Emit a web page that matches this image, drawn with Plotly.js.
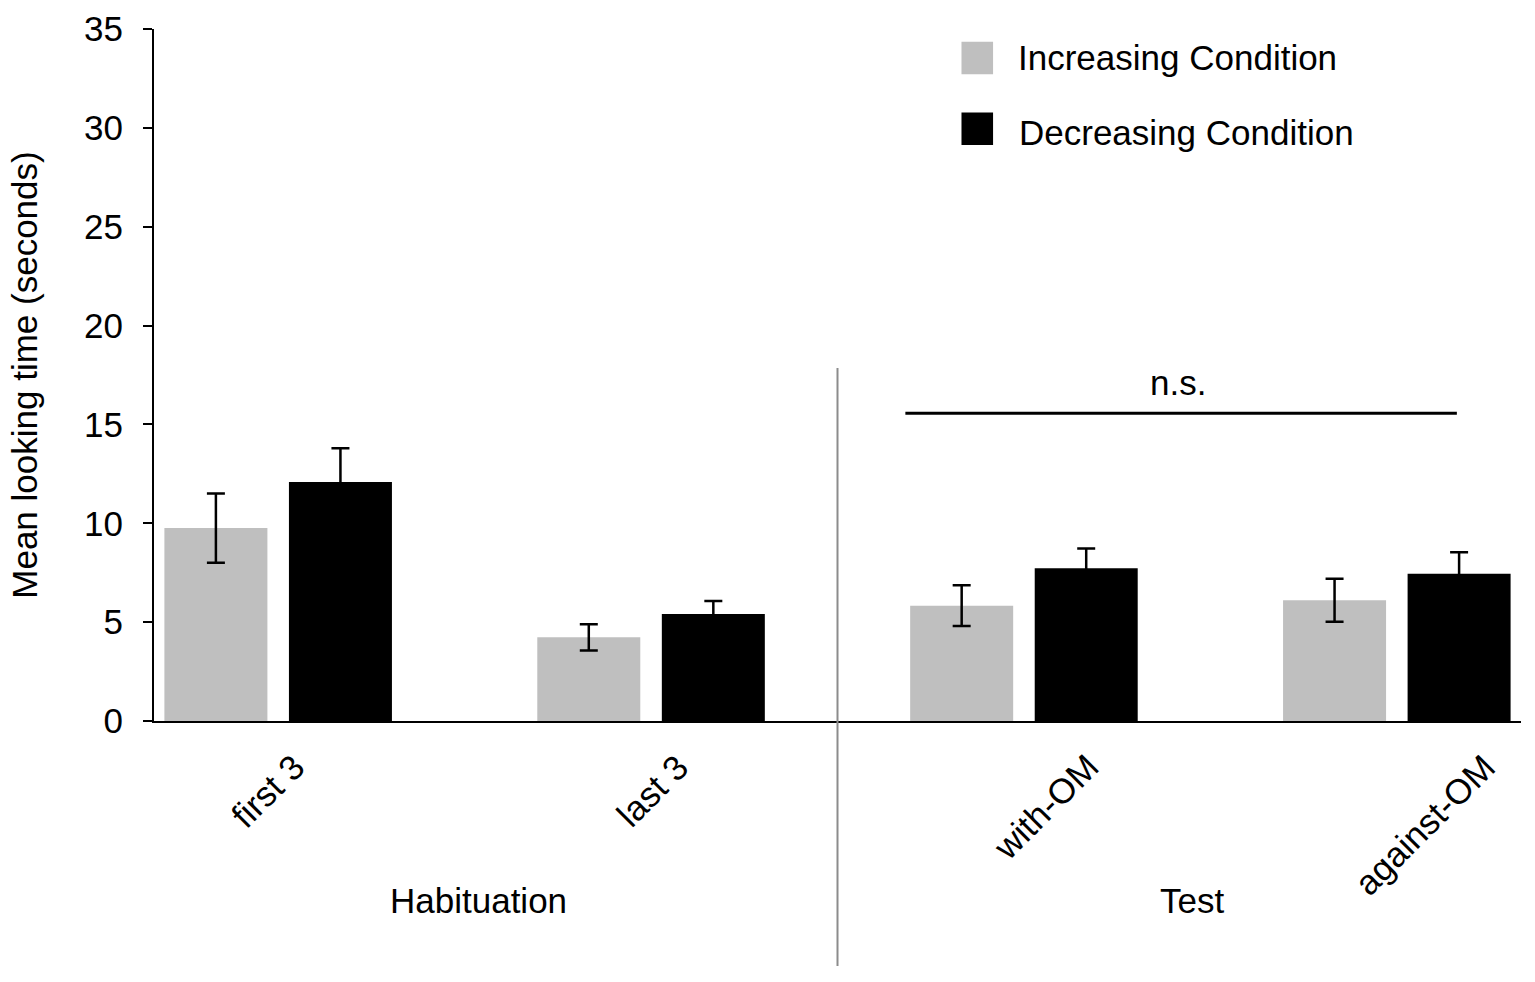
<!DOCTYPE html>
<html>
<head>
<meta charset="utf-8">
<script src="https://cdn.plot.ly/plotly-3.0.1.min.js"></script>
<style>
  body { margin: 0; background: #fff; }
  #plot { width: 1535px; height: 982px; }
</style>
</head>
<body>
<div id="plot"></div>
<script>
// trial blocks shown on the x axis, and the two phases they belong to
const categories = ['first 3', 'last 3', 'with-OM', 'against-OM'];
const phases = ['Habituation', 'Test'];
const phaseCenters = [0.536, 2.452];

// mean looking time (seconds) with standard error, per condition
const increasingMeans = [9.76, 4.23, 5.83, 6.11];
const increasingErrors = [1.75, 0.66, 1.03, 1.09];
const decreasingMeans = [12.09, 5.41, 7.72, 7.45];
const decreasingErrors = [1.70, 0.66, 1.00, 1.08];

const seriesNames = ['Increasing Condition', 'Decreasing Condition'];
const seriesColors = ['#bfbfbf', '#000000'];

const yTicks = [0, 5, 10, 15, 20, 25, 30, 35];

const FONT = '"Liberation Sans", Arial, Helvetica, sans-serif';
const xPos = categories.map((c, i) => i);

// build one bar trace per condition
function barTrace (name, color, means, errors) {
    return {
        x: xPos,
        y: means,
        name: name,
        type: 'bar',
        marker: { color: color, line: { width: 0 } },
        error_y: {
            type: 'data',
            array: errors,
            visible: true,
            color: '#000',
            thickness: 2.5,
            width: 9
        },
        hoverinfo: 'y'
    };
}

const traces = [
    barTrace(seriesNames[0], seriesColors[0], increasingMeans, increasingErrors),
    barTrace(seriesNames[1], seriesColors[1], decreasingMeans, decreasingErrors)
];

// rotated category labels sit a little off their slot, like the original
const labelShift = [-10, 1, 22, 28];
const annotations = categories.map((c, i) => ({
    x: i, xref: 'x', xshift: labelShift[i],
    y: -0.033, yref: 'paper',
    text: c, showarrow: false, textangle: -45,
    xanchor: 'center', yanchor: 'top',
    font: { family: FONT, size: 35, color: '#000' }
}));

phases.forEach((p, i) => {
    annotations.push({
        x: phaseCenters[i], xref: 'x',
        y: -0.259, yref: 'paper',
        text: p, showarrow: false,
        xanchor: 'center', yanchor: 'middle',
        font: { family: FONT, size: 35, color: '#000' }
    });
});

// "n.s." over the test comparison
annotations.push({
    x: 2.413, xref: 'x', y: 17.1, yref: 'y',
    text: 'n.s.', showarrow: false,
    xanchor: 'center', yanchor: 'middle',
    font: { family: FONT, size: 35, color: '#000' }
});

const shapes = [
    // divider between habituation and test
    { type: 'line', xref: 'x', yref: 'paper', x0: 1.5, x1: 1.5, y0: -0.354, y1: 0.51,
      line: { color: '#8c8c8c', width: 2 } },
    // significance bracket
    { type: 'line', xref: 'x', yref: 'y', x0: 1.682, x1: 3.161, y0: 15.56, y1: 15.56,
      line: { color: '#000', width: 3 } }
];

// hand-made legend with big square swatches
const legendRows = [0.958, 0.856];
const legendText = [0.9595, 0.851];
seriesNames.forEach((name, i) => {
    shapes.push({
        type: 'rect', xref: 'paper', yref: 'paper',
        x0: 0.5907, x1: 0.6138, y0: legendRows[i] - 0.0235, y1: legendRows[i] + 0.0235,
        fillcolor: seriesColors[i], line: { width: 0 }
    });
    annotations.push({
        x: 0.6304 + i * 0.0007, xref: 'paper', y: legendText[i], yref: 'paper',
        text: name, showarrow: false, xanchor: 'left', yanchor: 'middle',
        font: { family: FONT, size: 35, color: '#000' }
    });
});

const layout = {
    width: 1535,
    height: 982,
    margin: { l: 154, r: 14, t: 29, b: 261, pad: 0 },
    paper_bgcolor: '#fff',
    plot_bgcolor: '#fff',
    font: { family: FONT, size: 35, color: '#000' },
    barmode: 'group',
    bargap: 0.332,
    bargroupgap: 0.173,
    showlegend: false,
    xaxis: {
        range: [-0.333, 3.333],
        showline: true, linecolor: '#000', linewidth: 2,
        showticklabels: false, ticks: '',
        showgrid: false, zeroline: false, fixedrange: true
    },
    yaxis: {
        range: [0, 35],
        tickvals: yTicks,
        ticks: 'outside', ticklen: 9, tickwidth: 2, tickcolor: '#000',
        showline: true, linecolor: '#000', linewidth: 2,
        showgrid: false, zeroline: false, fixedrange: true,
        ticklabelstandoff: 13,
        tickfont: { family: FONT, size: 35, color: '#000' },
        title: {
            text: 'Mean looking time (seconds)',
            font: { family: FONT, size: 35, color: '#000' },
            standoff: 36
        }
    },
    shapes: shapes,
    annotations: annotations
};

Plotly.newPlot('plot', traces, layout, { displayModeBar: false, staticPlot: true });
</script>
</body>
</html>
